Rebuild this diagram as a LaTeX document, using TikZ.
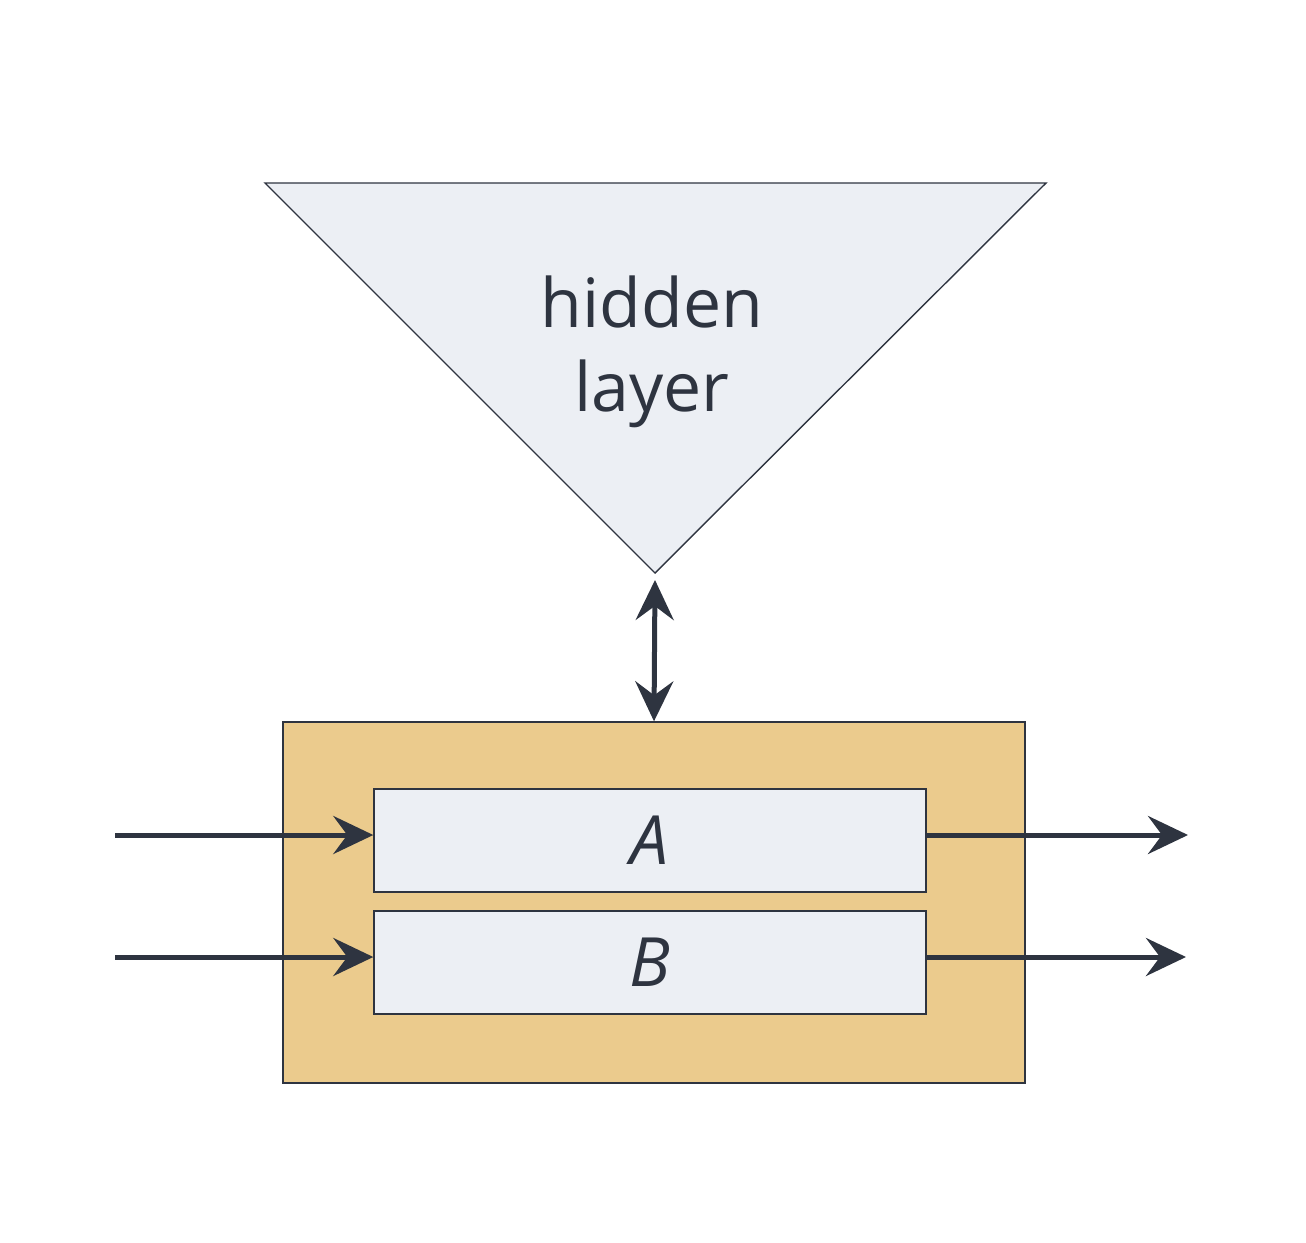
\documentclass[tikz,border=0pt]{standalone}
\usepackage{fontspec}
\setmainfont{Open Sans}
\usetikzlibrary{arrows.meta}
\definecolor{ink}{HTML}{2E3440}
\definecolor{pale}{HTML}{ECEFF4}
\definecolor{gold}{HTML}{EBCB8D}
\begin{document}
\begin{tikzpicture}[x=0.5pt,y=-0.5pt,
  box/.style={draw=ink,line width=0.7pt},
  conn/.style={draw=ink,line width=2.5pt,-{Stealth[length=20pt,width=19pt,inset=7pt]}},
  lbl/.style={text=ink,font=\fontsize{34}{42}\selectfont,align=center}]
\useasboundingbox (0,0) rectangle (1306,1242);
\path[box,fill=pale] (265,183) -- (1046,183) -- (655,573) -- cycle;
\node[lbl] (hid) at (652,352) {hidden\\layer};
\coordinate (tip) at (655,580);
\node[box,fill=gold,minimum width=371pt,minimum height=180.5pt,inner sep=0pt] (outer) at (654,902.5) {};
\node[box,fill=pale,minimum width=276pt,minimum height=51.5pt,inner sep=0pt] (A) at (650,840.5) {};
\node[box,fill=pale,minimum width=276pt,minimum height=51.5pt,inner sep=0pt] (B) at (650,962.5) {};
\node[lbl] at (A) {\itshape A};
\node[lbl] at (B) {\itshape B};
\coordinate (la) at (115,835);
\coordinate (lb) at (115,957);
\coordinate (ra) at (1188,835);
\coordinate (rb) at (1186,957);
\draw[conn] (la) -- (A.west |- la);
\draw[conn] (lb) -- (B.west |- lb);
\draw[conn] (A.east |- ra) -- (ra);
\draw[conn] (B.east |- rb) -- (rb);
\draw[conn,{Stealth[length=20pt,width=19pt,inset=7pt]}-{Stealth[length=20pt,width=19pt,inset=7pt]}] (tip) -- (outer.north);
\end{tikzpicture}
\end{document}
